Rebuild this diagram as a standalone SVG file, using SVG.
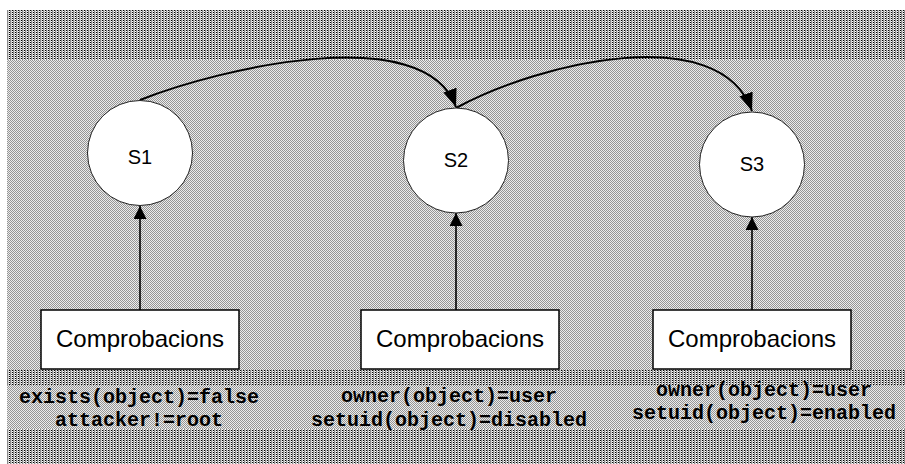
<svg xmlns="http://www.w3.org/2000/svg" width="905" height="464" viewBox="0 0 905 464">
<style>
.state{fill:#fff;stroke:#222;stroke-width:1}
.slabel{font-family:"Liberation Sans",Arial,sans-serif;font-size:20px;fill:#000;text-anchor:middle}
.box{fill:#fff;stroke:#000;stroke-width:1.5}
.blabel{font-family:"Liberation Sans",Arial,sans-serif;font-size:24px;fill:#000;text-anchor:middle}
.cond{font-family:"Liberation Mono","Courier New",monospace;font-size:20px;font-weight:bold;fill:#000;text-anchor:middle}
.edge{fill:none;stroke:#000;stroke-width:2}
.vedge{fill:none;stroke:#000;stroke-width:1.6}
</style>
<defs>
<pattern id="stripes" width="3" height="2" patternUnits="userSpaceOnUse">
<rect x="0" y="0" width="3" height="2" fill="#d0d0d0" shape-rendering="crispEdges"/>
<rect x="0" y="0" width="1" height="1" fill="#000" shape-rendering="crispEdges"/>
<rect x="0" y="1" width="1" height="1" fill="#fff" shape-rendering="crispEdges"/>
<rect x="1" y="0" width="1" height="2" fill="#8a8a8a" shape-rendering="crispEdges"/>
</pattern>
<pattern id="checker" width="2" height="2" patternUnits="userSpaceOnUse">
<rect x="0" y="0" width="2" height="2" fill="#ececec" shape-rendering="crispEdges"/>
<rect x="0" y="0" width="1" height="1" fill="#959595" shape-rendering="crispEdges"/>
<rect x="1" y="1" width="1" height="1" fill="#959595" shape-rendering="crispEdges"/>
</pattern>
<marker id="arrowL" viewBox="0 0 18 14" refX="18" refY="7" markerWidth="18" markerHeight="14" markerUnits="userSpaceOnUse" orient="auto">
<path d="M0,0 L18,7 L0,14 Z" fill="#000"/>
</marker>
<marker id="arrowS" viewBox="0 0 13 13" refX="13" refY="6.5" markerWidth="13" markerHeight="13" markerUnits="userSpaceOnUse" orient="auto">
<path d="M0,0 L13,6.5 L0,13 Z" fill="#000"/>
</marker>
</defs>
<rect x="0" y="0" width="905" height="464" fill="#fff"/>
<g id="background">
<rect x="7" y="10" width="898" height="50" fill="url(#stripes)"/>
<rect x="7" y="60" width="898" height="310" fill="url(#checker)"/>
<rect x="7" y="370" width="898" height="15" fill="url(#stripes)"/>
<rect x="7" y="385" width="898" height="44" fill="url(#checker)"/>
<rect x="7" y="429" width="898" height="35" fill="url(#stripes)"/>
</g>
<g id="connectors">
<path class="edge" d="M140,100 C220,68 425,20 456,107" marker-end="url(#arrowL)"/>
<path class="edge" d="M456,108 C540,62 720,20 752,111" marker-end="url(#arrowL)"/>
<path class="vedge" d="M140,310 L140,206" marker-end="url(#arrowS)"/>
<path class="vedge" d="M456,310 L456,213" marker-end="url(#arrowS)"/>
<path class="vedge" d="M752,310 L752,217" marker-end="url(#arrowS)"/>
</g>
<g id="S1">
<circle class="state" cx="140" cy="153" r="52.5"/>
<text class="slabel" x="140" y="164">S1</text>
</g>
<g id="S2">
<circle class="state" cx="456" cy="160.5" r="52.5"/>
<text class="slabel" x="456" y="167">S2</text>
</g>
<g id="S3">
<circle class="state" cx="752" cy="164.5" r="52.5"/>
<text class="slabel" x="752" y="171">S3</text>
</g>
<g id="check1">
<rect class="box" x="41" y="310" width="198" height="59"/>
<text class="blabel" x="140" y="347">Comprobacions</text>
<text class="cond" x="139" y="403">exists(object)=false</text>
<text class="cond" x="139" y="426">attacker!=root</text>
</g>
<g id="check2">
<rect class="box" x="361" y="310" width="198" height="59"/>
<text class="blabel" x="460" y="347">Comprobacions</text>
<text class="cond" x="449" y="402">owner(object)=user</text>
<text class="cond" x="449" y="426">setuid(object)=disabled</text>
</g>
<g id="check3">
<rect class="box" x="653" y="310" width="198" height="59"/>
<text class="blabel" x="752" y="347">Comprobacions</text>
<text class="cond" x="764" y="396">owner(object)=user</text>
<text class="cond" x="764" y="419">setuid(object)=enabled</text>
</g>
</svg>
